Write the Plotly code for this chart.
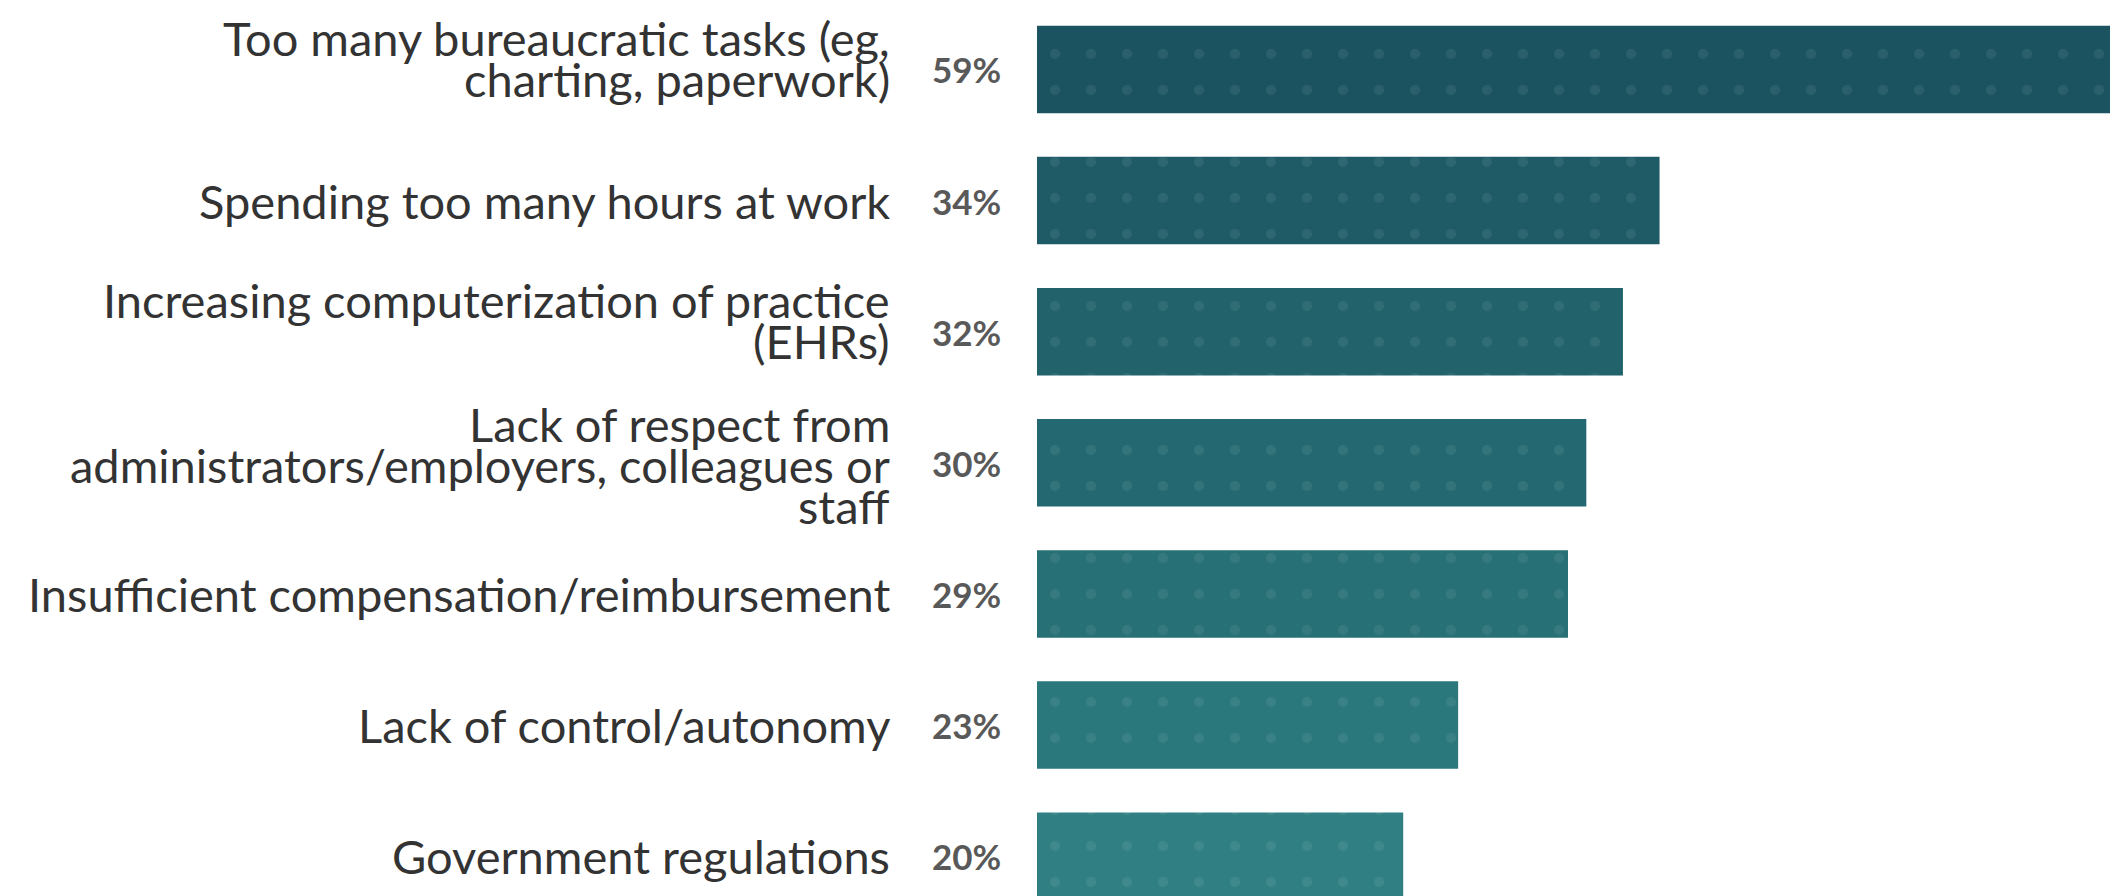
import plotly.graph_objects as go

categories = [
    "Too many bureaucratic tasks (eg,<br>charting, paperwork)",
    "Spending too many hours at work",
    "Increasing computerization of practice<br>(EHRs)",
    "Lack of respect from<br>administrators/employers, colleagues or<br>staff",
    "Insufficient compensation/reimbursement",
    "Lack of control/autonomy",
    "Government regulations",
]
values = [59, 34, 32, 30, 29, 23, 20]
bar_colors = ["#1b5361", "#1e5b66", "#21626b", "#246971", "#277076", "#2a777c", "#308083"]

W, H = 2110, 896
PLOT_LEFT = 1037
LABEL_RIGHT = 891
LINE_H = 41
LABEL_FONT = dict(family="Lato, 'Open Sans', sans-serif", size=47, color="#333333")
PCT_FONT = dict(family="Lato, 'Open Sans', sans-serif", size=35, color="#595959", weight="bold")
MULTI_OFFSET = {1: 0, 2: 11, 3: -2}

ids = list(range(len(categories)))

fig = go.Figure()
fig.add_trace(go.Bar(
    x=values,
    y=ids,
    orientation="h",
    marker=dict(
        color=bar_colors,
        line=dict(width=0),
        pattern=dict(shape=".", fgcolor="#ffffff", fgopacity=0.07, size=36, solidity=0.06),
    ),
    width=0.667,
    hoverinfo="skip",
    showlegend=False,
))

annotations = []
for i, (lab, v) in enumerate(zip(categories, values)):
    lines = lab.split("<br>")
    n = len(lines)
    for j, line in enumerate(lines):
        annotations.append(dict(
            x=0, xref="x", y=i, yref="y",
            text=line, showarrow=False,
            xanchor="right", yanchor="middle",
            xshift=-(PLOT_LEFT - LABEL_RIGHT),
            yshift=((n - 1) / 2 - j) * LINE_H + MULTI_OFFSET[n],
            font=LABEL_FONT,
            borderpad=0,
        ))
    annotations.append(dict(
        x=0, xref="x", y=i, yref="y",
        text=f"{v}%", showarrow=False,
        xanchor="right", yanchor="middle",
        xshift=-34, yshift=0,
        font=PCT_FONT,
    ))

fig.update_layout(
    width=W, height=H,
    margin=dict(l=PLOT_LEFT, r=0, t=0, b=0),
    paper_bgcolor="white", plot_bgcolor="white",
    xaxis=dict(range=[0, 58.6], visible=False, fixedrange=True),
    yaxis=dict(range=[6.304, -0.530], visible=False, fixedrange=True),
    annotations=annotations,
    bargap=0.333,
)

fig.write_html("out.html")
